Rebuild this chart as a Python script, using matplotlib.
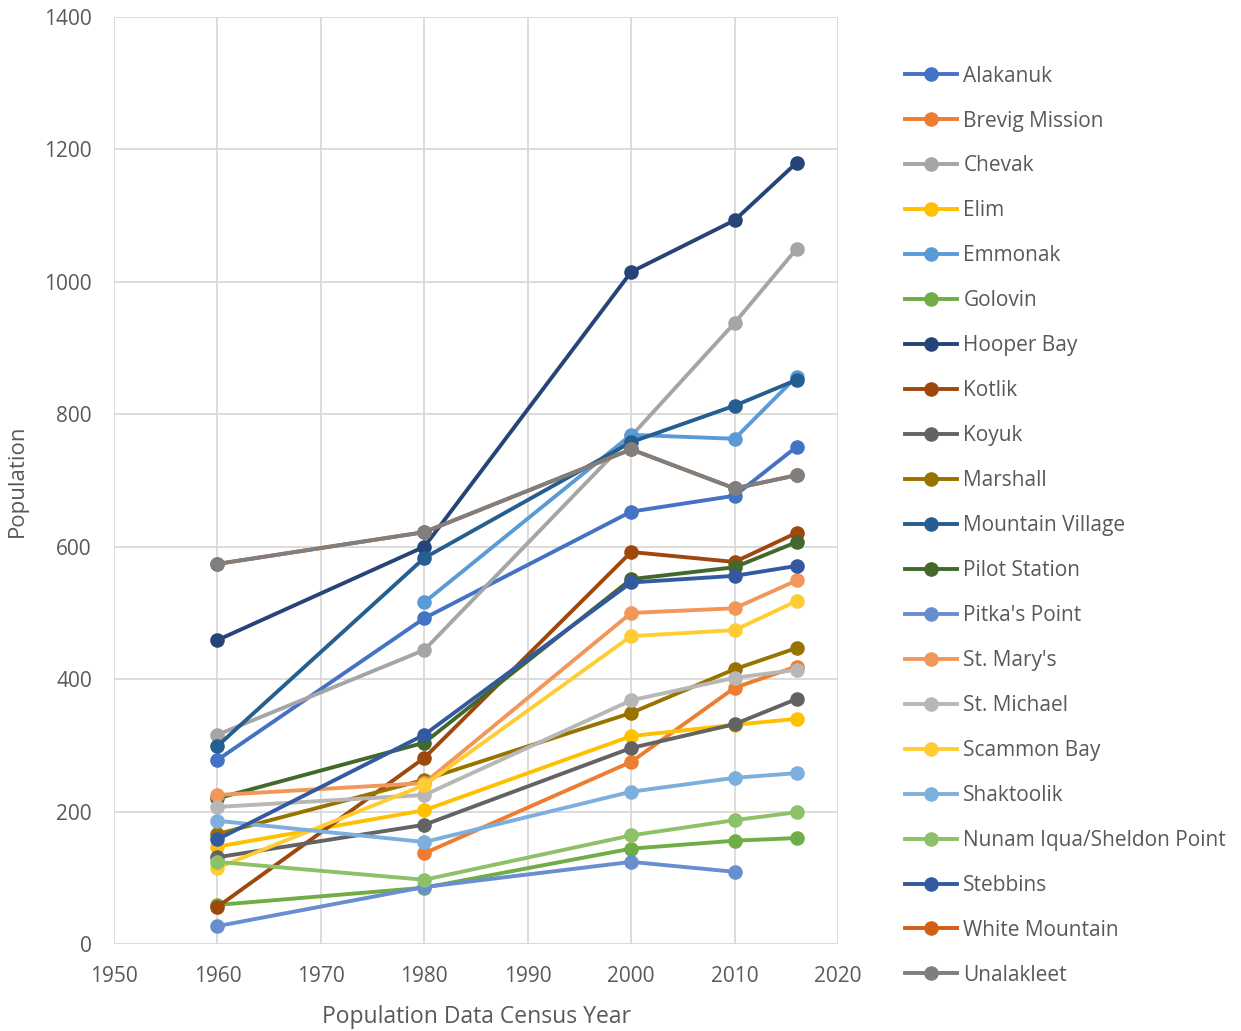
import numpy as np
import matplotlib
matplotlib.use("Agg")
import matplotlib.pyplot as plt

plt.rcParams["font.family"] = ["Open Sans", "DejaVu Sans"]

nan = np.nan
years = [1960, 1980, 2000, 2010, 2016]

names = [
    "Alakanuk", "Brevig Mission", "Chevak", "Elim", "Emmonak", "Golovin",
    "Hooper Bay", "Kotlik", "Koyuk", "Marshall", "Mountain Village",
    "Pilot Station", "Pitka's Point", "St. Mary's", "St. Michael",
    "Scammon Bay", "Shaktoolik", "Nunam Iqua/Sheldon Point", "Stebbins",
    "White Mountain", "Unalakleet",
]

alakanuk = [278, 492, 653, 677, 751]
brevig_mission = [nan, 137, 275, 387, 419]
chevak = [316, 444, 767, 938, 1050]
elim = [147, 202, 314, 331, 340]
emmonak = [nan, 516, 769, 763, 857]
golovin = [59, 85, 144, 156, 160]
hooper_bay = [459, 600, 1015, 1093, 1180]
kotlik = [56, 281, 592, 577, 621]
koyuk = [131, 180, 296, 332, 370]
marshall = [166, 248, 349, 415, 447]
mountain_village = [299, 583, 758, 813, 852]
pilot_station = [220, 304, 551, 569, 607]
pitkas_point = [27, 86, 124, 109, nan]
st_marys = [225, 243, 500, 507, 549]
st_michael = [207, 225, 368, 402, 414]
scammon_bay = [115, 240, 465, 474, 518]
shaktoolik = [186, 154, 230, 251, 258]
nunam_iqua = [124, 97, 164, 187, 199]
stebbins = [158, 316, 546, 556, 571]
white_mountain = [574, 622, 747, 688, 708]
unalakleet = [574, 622, 747, 688, 708]

series = [
    alakanuk, brevig_mission, chevak, elim, emmonak, golovin, hooper_bay,
    kotlik, koyuk, marshall, mountain_village, pilot_station, pitkas_point,
    st_marys, st_michael, scammon_bay, shaktoolik, nunam_iqua, stebbins,
    white_mountain, unalakleet,
]

colors = [
    "#4472C4", "#ED7D31", "#A5A5A5", "#FFC000", "#5B9BD5", "#70AD47",
    "#264478", "#9E480E", "#636363", "#997300", "#255E91", "#43682B",
    "#698ED0", "#F1975A", "#B7B7B7", "#FFCD33", "#7CAFDD", "#8CC168",
    "#335AA1", "#D26012", "#7F7F7F",
]

TEXT = "#595959"
GRID = "#D9D9D9"

fig = plt.figure(figsize=(12.41, 10.31), dpi=100)
ax = fig.add_axes([0.0919, 0.0844, 0.5834, 0.8991])

handles = []
for name, vals, col in zip(names, series, colors):
    v = np.array(vals, dtype=float)
    (h,) = ax.plot(years, v, color=col, linewidth=2.8, marker="o",
                   markersize=10.5, markeredgewidth=0, label=name)
    handles.append(h)

ax.set_xlim(1950, 2020)
ax.set_ylim(0, 1400)
ax.set_xticks(np.arange(1950, 2021, 10))
ax.set_yticks(np.arange(0, 1401, 200))
ax.grid(True, color=GRID, linewidth=1.3)
ax.set_axisbelow(True)
for s in ax.spines.values():
    s.set_visible(False)
ax.tick_params(length=0, labelsize=15, labelcolor=TEXT)
ax.tick_params(axis="y", pad=16)
ax.tick_params(axis="x", pad=16)

ax.set_xlabel("Population Data Census Year", fontsize=16.5, color=TEXT, labelpad=13)
ax.set_ylabel("Population", fontsize=16, color=TEXT, labelpad=12)

leg = fig.legend(handles=handles, loc="upper left",
                 bbox_to_anchor=(0.7225, 0.9445), frameon=False,
                 fontsize=15, labelcolor=TEXT, handlelength=2.5,
                 handletextpad=0.3, labelspacing=1.15, borderaxespad=0)

fig.savefig("out.png", dpi=100)
